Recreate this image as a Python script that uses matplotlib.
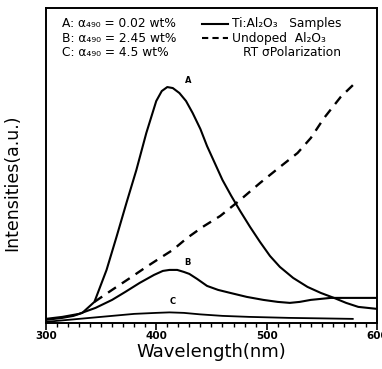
import matplotlib.pyplot as plt
from matplotlib.ticker import MultipleLocator

# curve A: Ti:Al2O3, alpha490 = 0.02 wt%
wl_a = [300, 315, 325, 333, 344, 355, 364, 373, 382, 391, 400, 405, 410, 415, 421, 427,
        433, 440, 446, 453, 460, 468, 476, 485, 494, 503, 512, 524, 537, 549, 561, 572, 583, 600]
int_a = [3, 5, 7, 10, 21, 53, 86, 120, 153, 190, 222, 232, 236, 235, 230, 222,
         210, 194, 177, 160, 143, 127, 112, 96, 81, 67, 56, 45, 36, 30, 25, 20, 16, 14]

# curve B: alpha490 = 2.45 wt%
wl_b = [300, 315, 330, 345, 360, 372, 385, 398, 406, 412, 419, 425, 430, 437, 446,
        456, 467, 482, 497, 510, 521, 530, 540, 558, 580, 600]
int_b = [4, 6, 9, 15, 23, 31, 40, 48, 52, 53, 53, 51, 49, 44, 37,
         33, 30, 26, 23, 21, 20, 21, 23, 25, 25, 25]

# curve C: alpha490 = 4.5 wt%
wl_c = [300, 320, 340, 360, 380, 400, 412, 425, 440, 460, 484, 520, 550, 578]
int_c = [1, 3, 5, 7, 9, 10, 10.5, 10, 8.5, 7, 6, 5, 4.5, 4]

# dashed: undoped Al2O3
wl_u = [344, 352, 360, 375, 391, 405, 415, 428, 442, 458, 476, 494, 512, 528, 540, 552, 567, 581]
int_u = [21, 27, 33, 44, 56, 66, 73, 85, 96, 107, 123, 140, 156, 170, 185, 205, 226, 241]

fig = plt.figure(figsize=(3.82, 3.69), dpi=100)
ax = fig.add_axes([0.120, 0.125, 0.867, 0.853])

ax.plot(wl_a, int_a, color='black', lw=1.5)
ax.plot(wl_b, int_b, color='black', lw=1.5)
ax.plot(wl_c, int_c, color='black', lw=1.3)
ax.plot(wl_u, int_u, color='black', lw=1.7, ls=(0, (4, 3)))

ax.text(429, 238, 'A', fontsize=6, fontweight='bold', ha='center', va='bottom')
ax.text(428, 56, 'B', fontsize=6, fontweight='bold', ha='center', va='bottom')
ax.text(415, 17, 'C', fontsize=6, fontweight='bold', ha='center', va='bottom')

# legend block written inside the frame (unicode subscripts keep the rows compact)
fs = 8.8
rows = [0.950, 0.9045, 0.859]
ax.text(0.05, rows[0], 'A: α₄₉₀ = 0.02 wt%', transform=ax.transAxes, fontsize=fs, va='center')
ax.text(0.05, rows[1], 'B: α₄₉₀ = 2.45 wt%', transform=ax.transAxes, fontsize=fs, va='center')
ax.text(0.05, rows[2], 'C: α₄₉₀ = 4.5 wt%', transform=ax.transAxes, fontsize=fs, va='center')
ax.plot([0.47, 0.55], [rows[0], rows[0]], transform=ax.transAxes, color='black', lw=1.5)
ax.plot([0.47, 0.55], [rows[1], rows[1]], transform=ax.transAxes, color='black', lw=1.5, ls=(0, (3, 2)))
ax.text(0.561, rows[0], 'Ti:Al₂O₃   Samples', transform=ax.transAxes, fontsize=fs, va='center')
ax.text(0.561, rows[1], 'Undoped  Al₂O₃', transform=ax.transAxes, fontsize=fs, va='center')
ax.text(0.595, rows[2], 'RT σPolarization', transform=ax.transAxes, fontsize=fs, va='center')

ax.set_xlim(300, 600)
ax.set_ylim(0, 315)
ax.set_xticks([300, 400, 500, 600])
ax.set_xticklabels(['300', '400', '500', '600'], fontsize=7.5, fontweight='bold')
ax.xaxis.set_minor_locator(MultipleLocator(10))
ax.tick_params(axis='x', which='major', length=5, width=1.2, direction='out', pad=1)
ax.tick_params(axis='x', which='minor', length=3, width=1.0, direction='out')
ax.set_yticks([])
for s in ax.spines.values():
    s.set_linewidth(1.4)

ax.set_xlabel('Wavelength(nm)', fontsize=13, labelpad=1)
ax.set_ylabel('Intensities(a.u.)', fontsize=12.5)
ax.yaxis.set_label_coords(-0.075, 0.444)

fig.savefig('out.png', dpi=100)
